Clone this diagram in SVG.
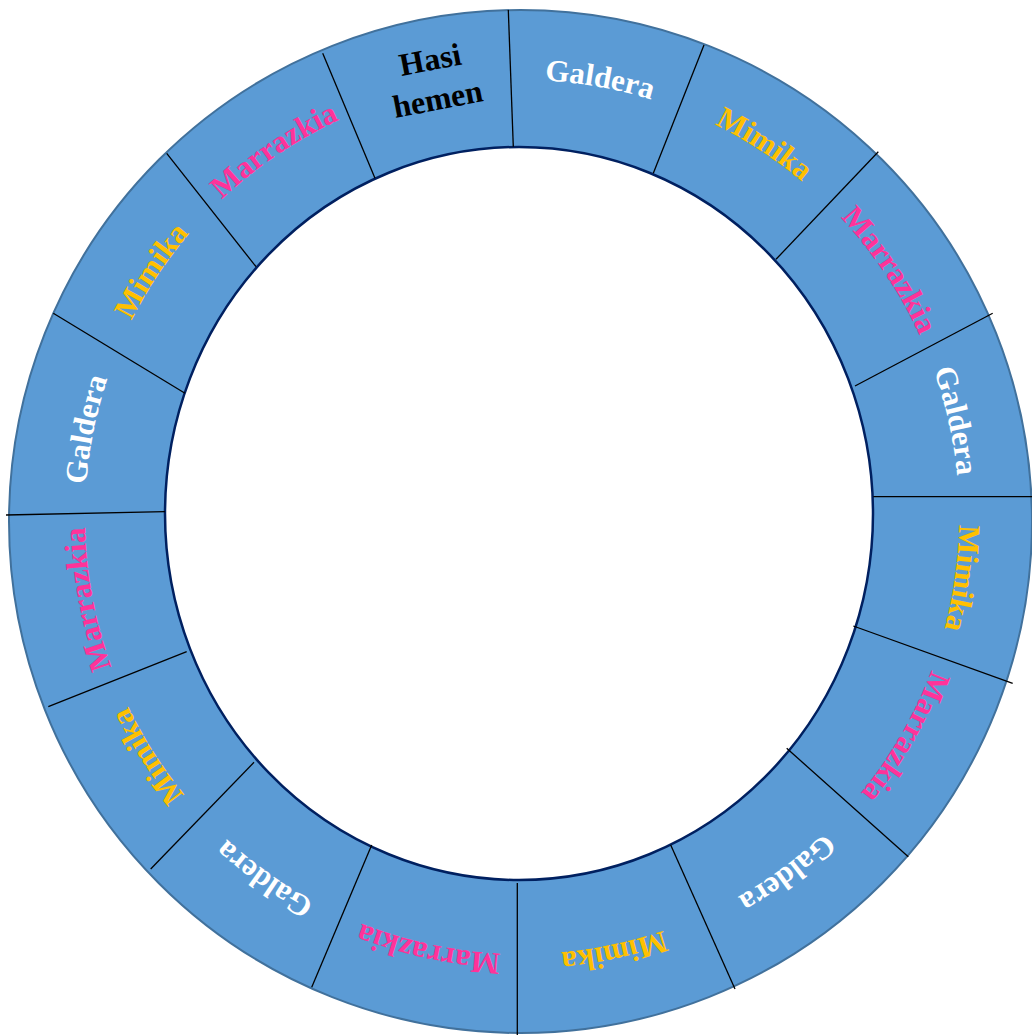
<svg xmlns="http://www.w3.org/2000/svg" xmlns:xlink="http://www.w3.org/1999/xlink" width="1032" height="1035" viewBox="0 0 1032 1035">
<style>
.lbl{font-family:"Liberation Serif","Times New Roman",serif;font-weight:bold;font-size:31px;text-anchor:middle}
.hh{font-size:32px}
.w{fill:#FFFFFF}.y{fill:#FFC000}.p{fill:#FF3399}.k{fill:#000000}
.div{stroke:#000000;stroke-width:1.3;fill:none}
</style>
<defs>
<path id="ring" d="M 522 954 A 437 437 0 0 1 522 80 A 437 437 0 0 1 522 954"/>
</defs>
<rect width="1032" height="1035" fill="#FFFFFF"/>
<g id="wheel">
<circle cx="520.5" cy="521.5" r="511.5" fill="#5B9BD5" stroke="#41719C" stroke-width="2"/>
<ellipse cx="519" cy="513.5" rx="354" ry="366.5" fill="#FFFFFF" stroke="#002060" stroke-width="2.5"/>
</g>
<g id="dividers">
<line class="div" x1="322.7" y1="53.3" x2="375" y2="178.3"/>
<line class="div" x1="508.3" y1="10" x2="513.3" y2="146.7"/>
<line class="div" x1="704" y1="45" x2="653.3" y2="173.3"/>
<line class="div" x1="878.3" y1="151.7" x2="776" y2="259.3"/>
<line class="div" x1="992.7" y1="313.3" x2="855" y2="386"/>
<line class="div" x1="1032" y1="496.7" x2="873.3" y2="496.7"/>
<line class="div" x1="853.3" y1="626" x2="1012.7" y2="683.3"/>
<line class="div" x1="786.7" y1="748.3" x2="908.3" y2="856.7"/>
<line class="div" x1="670.7" y1="845" x2="735" y2="989"/>
<line class="div" x1="517.3" y1="883" x2="517.3" y2="1035"/>
<line class="div" x1="371.7" y1="845" x2="311.7" y2="987.3"/>
<line class="div" x1="254" y1="762.3" x2="150.7" y2="869"/>
<line class="div" x1="186.7" y1="651.7" x2="48.3" y2="706.7"/>
<line class="div" x1="6" y1="515" x2="165" y2="511.7"/>
<line class="div" x1="53.3" y1="313.3" x2="185" y2="393.3"/>
<line class="div" x1="166.7" y1="153.3" x2="256" y2="266.7"/>
</g>
<g id="seg-start"><text class="lbl hh k" transform="translate(434,80) rotate(-11)"><tspan x="0" y="-10">Hasi</tspan><tspan x="0" y="30">hemen</tspan></text></g>
<g id="seg-1"><text class="lbl w"><textPath xlink:href="#ring" href="#ring" startOffset="1449.5">Galdera</textPath></text></g>
<g id="seg-2"><text class="lbl y"><textPath xlink:href="#ring" href="#ring" startOffset="1624.2">Mimika</textPath></text></g>
<g id="seg-3"><text class="lbl p"><textPath xlink:href="#ring" href="#ring" startOffset="1800.4">Marrazkia</textPath></text></g>
<g id="seg-4"><text class="lbl w"><textPath xlink:href="#ring" href="#ring" startOffset="1963.2">Galdera</textPath></text></g>
<g id="seg-5"><text class="lbl y"><textPath xlink:href="#ring" href="#ring" startOffset="2119.2">Mimika</textPath></text></g>
<g id="seg-6"><text class="lbl p"><textPath xlink:href="#ring" href="#ring" startOffset="2286.2">Marrazkia</textPath></text></g>
<g id="seg-7"><text class="lbl w"><textPath xlink:href="#ring" href="#ring" startOffset="2465.5">Galdera</textPath></text></g>
<g id="seg-8"><text class="lbl y"><textPath xlink:href="#ring" href="#ring" startOffset="2653.5">Mimika</textPath></text></g>
<g id="seg-9"><text class="lbl p"><textPath xlink:href="#ring" href="#ring" startOffset="93">Marrazkia</textPath></text></g>
<g id="seg-10"><text class="lbl w"><textPath xlink:href="#ring" href="#ring" startOffset="270.4">Galdera</textPath></text></g>
<g id="seg-11"><text class="lbl y"><textPath xlink:href="#ring" href="#ring" startOffset="437.8">Mimika</textPath></text></g>
<g id="seg-12"><text class="lbl p"><textPath xlink:href="#ring" href="#ring" startOffset="604.4">Marrazkia</textPath></text></g>
<g id="seg-13"><text class="lbl w"><textPath xlink:href="#ring" href="#ring" startOffset="773">Galdera</textPath></text></g>
<g id="seg-14"><text class="lbl y"><textPath xlink:href="#ring" href="#ring" startOffset="942.3">Mimika</textPath></text></g>
<g id="seg-15"><text class="lbl p"><textPath xlink:href="#ring" href="#ring" startOffset="1112.8">Marrazkia</textPath></text></g>
</svg>
